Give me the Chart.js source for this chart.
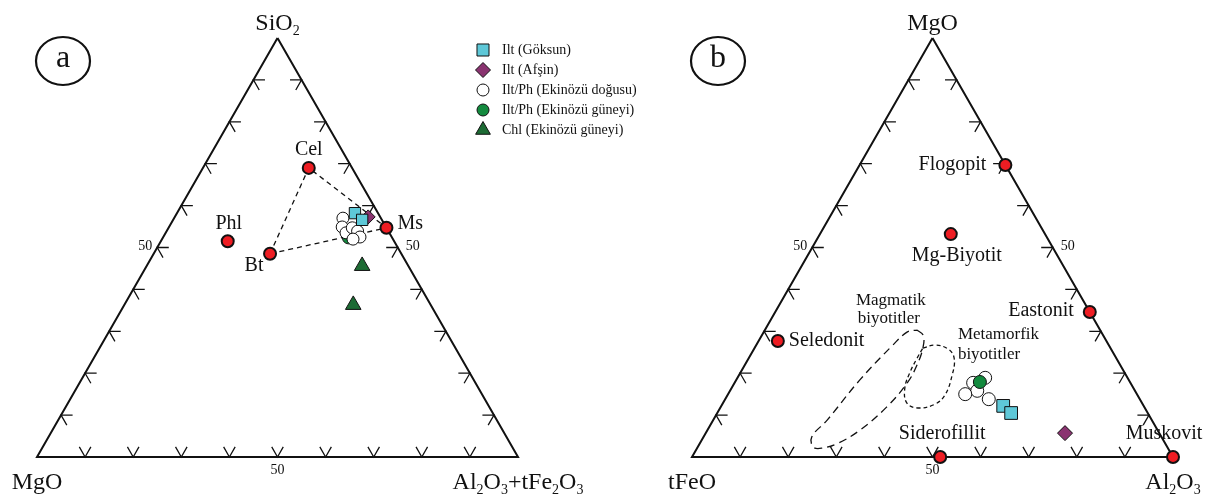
<!DOCTYPE html>
<html>
<head>
<meta charset="utf-8">
<script src="https://cdn.jsdelivr.net/npm/chart.js@4.4.1/dist/chart.umd.min.js"></script>
<style>
  body { margin: 0; background: #fff; }
  canvas { display: block; }
</style>
</head>
<body>
<canvas id="chart" width="1219" height="500"></canvas>
<script>
'use strict'

// every composition is [top, left, right] in percent
const tickValues = [10, 20, 30, 40, 50, 60, 70, 80, 90]
const labelledTicks = [50]

// (a) SiO2 - MgO - Al2O3+tFe2O3
const cornersA = ['SiO_2', 'MgO', 'Al_2O_3+tFe_2O_3']
const endNamesA = ['Cel', 'Phl', 'Bt', 'Ms']
const endValuesA = [[69, 9, 22], [51.5, 34.6, 13.9], [48.5, 27.3, 24.2], [54.7, 0, 45.3]]
const tieLineA = ['Bt', 'Cel', 'Ms', 'Bt']
const goksunA = [[58.2, 4.8, 37.0], [56.6, 4.1, 39.3]]
const afsinA = [[57.3, 2.5, 40.2]]
const dogusuA = [[57.0, 7.9, 35.1], [54.9, 9.1, 36.0], [53.5, 9.0, 37.5], [54.7, 7.1, 38.2],
  [53.9, 6.4, 39.7], [52.5, 6.6, 40.9], [52.0, 8.3, 39.7]]
const guneyiA = [[52.3, 9.1, 38.6]]
const chlA = [[45.6, 9.6, 44.8], [36.3, 16.1, 47.6]]

// (b) MgO - tFeO - Al2O3
const cornersB = ['MgO', 'tFeO', 'Al_2O_3']
const endNamesB = ['Flogopit', 'Mg-Biyotit', 'Eastonit', 'Seledonit', 'Siderofillit', 'Muskovit']
const endValuesB = [[69.7, 0, 30.3], [53.2, 19.6, 27.2], [34.6, 0, 65.4], [27.7, 68.3, 4.0],
  [0, 48.4, 51.6], [0, 0, 100]]
const goksunB = [[12.2, 29.2, 58.6], [10.5, 28.4, 61.1]]
const afsinB = [[5.7, 19.6, 74.7]]
const dogusuB = [[17.7, 32.7, 49.6], [18.9, 29.6, 51.5], [15.8, 32.8, 51.4], [15.0, 35.7, 49.3], [13.8, 31.4, 54.8]]
const guneyiB = [[17.9, 31.2, 50.9]]
const fieldNames = [['Magmatik', 'biyotitler'], ['Metamorfik', 'biyotitler']]
const magmatikField = [[30.3, 38.1, 31.6], [29.1, 37.4, 33.5], [26.3, 38.8, 34.9], [22.0, 42.2, 35.8],
  [17.7, 46.4, 35.9], [11.9, 53.6, 34.5], [6.4, 61.9, 31.7], [3.3, 68.0, 28.7], [2.1, 72.0, 25.9],
  [2.4, 73.6, 24.0], [4.8, 72.7, 22.5], [8.8, 67.5, 23.7], [18.4, 55.9, 25.7], [26.7, 44.9, 28.4],
  [29.8, 40.4, 29.8], [30.3, 38.1, 31.6]]
const metamorfikField = [[26.0, 39.0, 35.0], [26.7, 36.2, 37.1], [25.8, 33.9, 40.3], [23.6, 33.7, 42.7],
  [19.6, 36.1, 44.3], [14.8, 40.0, 45.2], [12.6, 43.2, 44.2], [11.7, 47.2, 41.1], [12.9, 48.9, 38.2],
  [16.5, 47.5, 36.0], [20.3, 44.5, 35.2], [23.6, 41.4, 35.0], [26.0, 39.0, 35.0]]

const legendLabels = ['Ilt (Göksun)', 'Ilt (Afşin)', 'Ilt/Ph (Ekinözü doğusu)', 'Ilt/Ph (Ekinözü güneyi)', 'Chl (Ekinözü güneyi)']

const FONT = '"Liberation Serif", "Times New Roman", serif'
const RED = '#ee1d23'
const markers = [
  { pointStyle: 'rect', radius: 8.5, color: '#5ec8d8' },
  { pointStyle: 'rectRot', radius: 7.5, color: '#8a3370' },
  { pointStyle: 'circle', radius: 6, color: '#ffffff' },
  { pointStyle: 'circle', radius: 6, color: '#138a3e' },
  { pointStyle: 'triangle', radius: 8.5, color: '#1d6b34' }
]

// page layout of the two triangles
const SIDE = 481
const LEFT_A = 37
const LEFT_B = 692
const PAD = { left: 37, right: 46, top: 38, bottom: 43 }
const areaWidth = 1219 - PAD.left - PAD.right

function pt (v) {
  return { x: v[2] + v[0] / 2, y: v[0] }
}

function t3 (top, right) {
  return [top, 100 - top - right, right]
}

function frameDatasets (axis) {
  const d = 2.4
  const ticks = []
  const gap = { x: null, y: null }
  tickValues.forEach(v => {
    ticks.push(pt(t3(d, v - d)), pt(t3(0, v)), pt(t3(d, v)), gap)
    ticks.push(pt(t3(v, d)), pt(t3(v, 0)), pt(t3(v - d, d)), gap)
    ticks.push(pt(t3(v, 100 - v - d)), pt(t3(v, 100 - v)), pt(t3(v - d, 100 - v)), gap)
  })
  const outline = [t3(100, 0), t3(0, 0), t3(0, 100), t3(100, 0)].map(pt)
  return [
    lineSet(axis, outline, 2, []),
    lineSet(axis, ticks, 1.3, [])
  ]
}

function lineSet (axis, data, width, dash, tension) {
  return {
    xAxisID: axis,
    data: data,
    showLine: true,
    spanGaps: false,
    borderColor: '#111',
    borderWidth: width,
    borderDash: dash,
    tension: tension || 0,
    pointRadius: 0,
    fill: false
  }
}

function pointSet (axis, values, marker, radius) {
  return {
    xAxisID: axis,
    data: values.map(pt),
    showLine: false,
    pointStyle: marker.pointStyle,
    pointRadius: radius || marker.radius,
    pointBackgroundColor: marker.color,
    pointBorderColor: '#111',
    pointBorderWidth: 1
  }
}

function endSet (axis, values) {
  return {
    xAxisID: axis,
    data: values.map(pt),
    showLine: false,
    pointStyle: 'circle',
    pointRadius: 6,
    pointBackgroundColor: RED,
    pointBorderColor: '#111',
    pointBorderWidth: 2
  }
}

const tieValues = tieLineA.map(name => endValuesA[endNamesA.indexOf(name)])

const datasets = [].concat(
  frameDatasets('xa'),
  [lineSet('xa', tieValues.map(pt), 1.3, [5, 4])],
  [endSet('xa', endValuesA)],
  [pointSet('xa', guneyiA, markers[3], 6)],
  [pointSet('xa', dogusuA, markers[2], 6)],
  [pointSet('xa', afsinA, markers[1], 7)],
  [pointSet('xa', goksunA, markers[0], 8)],
  [pointSet('xa', chlA, markers[4], 9)],
  frameDatasets('xb'),
  [lineSet('xb', magmatikField.map(pt), 1.3, [8, 5], 0.4)],
  [lineSet('xb', metamorfikField.map(pt), 1.3, [4, 3], 0.4)],
  [endSet('xb', endValuesB)],
  [pointSet('xb', dogusuB, markers[2], 6.5)],
  [pointSet('xb', guneyiB, markers[3], 6.5)],
  [pointSet('xb', goksunB, markers[0], 9)],
  [pointSet('xb', afsinB, markers[1], 7.5)]
)
// later datasets are drawn on top
datasets.forEach((ds, i) => { ds.order = datasets.length - i; ds.clip = false })

// label placement: [dx, dy, align] in pixels from the marker
const labelPlace = {
  Cel: [0, -18, 'center'],
  Phl: [1, -17, 'center'],
  Bt: [-16, 12, 'center'],
  Ms: [11, -4, 'left'],
  Flogopit: [-19, 0, 'right'],
  'Mg-Biyotit': [6, 22, 'center'],
  Eastonit: [-16, -1, 'right'],
  Seledonit: [11, 0, 'left'],
  Siderofillit: [2, -23, 'center'],
  Muskovit: [-9, -23, 'center']
}

function drawRich (ctx, text, x, y, size, align) {
  const parts = []
  for (let i = 0; i < text.length; i++) {
    if (text[i] === '_') {
      parts.push([text[i + 1], true])
      i++
    } else {
      parts.push([text[i], false])
    }
  }
  const fontFor = p => (p[1] ? Math.round(size * 0.6) : size) + 'px ' + FONT
  let width = 0
  parts.forEach(p => { ctx.font = fontFor(p); width += ctx.measureText(p[0]).width })
  let cx = align === 'center' ? x - width / 2 : (align === 'right' ? x - width : x)
  ctx.textAlign = 'left'
  ctx.textBaseline = 'alphabetic'
  parts.forEach(p => {
    ctx.font = fontFor(p)
    ctx.fillText(p[0], cx, p[1] ? y + size * 0.2 : y)
    cx += ctx.measureText(p[0]).width
  })
}

function drawMarker (ctx, marker, x, y) {
  ctx.fillStyle = marker.color
  ctx.strokeStyle = '#111'
  ctx.lineWidth = 1
  Chart.helpers.drawPoint(ctx, { pointStyle: marker.pointStyle, radius: marker.radius, rotation: 0, borderWidth: 1 }, x, y)
}

const panels = [
  { axis: 'xa', letter: 'a', left: LEFT_A, corners: cornersA, names: endNamesA, values: endValuesA },
  { axis: 'xb', letter: 'b', left: LEFT_B, corners: cornersB, names: endNamesB, values: endValuesB }
]

const textPlugin = {
  id: 'ternaryTexts',
  afterDatasetsDraw (chart) {
    const ctx = chart.ctx
    const ys = chart.scales.y
    ctx.save()
    panels.forEach(panel => {
      const xs = chart.scales[panel.axis]
      const px = v => xs.getPixelForValue(pt(v).x)
      const py = v => ys.getPixelForValue(pt(v).y)
      ctx.fillStyle = '#111'

      // corner names
      drawRich(ctx, panel.corners[0], px(t3(100, 0)), 30, 24, 'center')
      drawRich(ctx, panel.corners[1], px(t3(0, 0)), 489, 24, 'center')
      drawRich(ctx, panel.corners[2], px(t3(0, 100)), 489, 24, 'center')

      // edge tick labels
      ctx.font = '14px ' + FONT
      ctx.textBaseline = 'middle'
      labelledTicks.forEach(v => {
        ctx.textAlign = 'right'
        ctx.fillText(String(v), px(t3(v, 0)) - 5, py(t3(v, 0)) - 1)
        ctx.textAlign = 'left'
        ctx.fillText(String(v), px(t3(v, 100 - v)) + 8, py(t3(v, 100 - v)) - 1)
        ctx.textAlign = 'center'
        ctx.fillText(String(v), px(t3(0, v)), py(t3(0, v)) + 13)
      })

      // end member names
      ctx.font = '20px ' + FONT
      panel.names.forEach((name, i) => {
        const place = labelPlace[name]
        ctx.textAlign = place[2]
        ctx.fillText(name, px(panel.values[i]) + place[0], py(panel.values[i]) + place[1])
      })

      // panel letter in an oval
      const cx = panel.left + 26
      ctx.beginPath()
      ctx.lineWidth = 2.2
      ctx.strokeStyle = '#111'
      ctx.ellipse(cx, 61, 27, 24, 0, 0, Math.PI * 2)
      ctx.stroke()
      ctx.font = '32px ' + FONT
      ctx.textAlign = 'center'
      ctx.textBaseline = 'middle'
      ctx.fillText(panel.letter, cx, 59)
    })

    // field names in (b)
    const xb = chart.scales.xb
    ctx.font = '17px ' + FONT
    ctx.textBaseline = 'middle'
    ctx.textAlign = 'center'
    const mTop = magmatikField[0]
    ctx.fillText(fieldNames[0][0], xb.getPixelForValue(pt(mTop).x) - 26, ys.getPixelForValue(pt(mTop).y) - 30)
    ctx.fillText(fieldNames[0][1], xb.getPixelForValue(pt(mTop).x) - 28, ys.getPixelForValue(pt(mTop).y) - 12)
    const rTop = metamorfikField[2]
    ctx.textAlign = 'left'
    ctx.fillText(fieldNames[1][0], xb.getPixelForValue(pt(rTop).x) + 10, ys.getPixelForValue(pt(rTop).y) - 14)
    ctx.fillText(fieldNames[1][1], xb.getPixelForValue(pt(rTop).x) + 10, ys.getPixelForValue(pt(rTop).y) + 6)

    // legend
    legendLabels.forEach((label, i) => {
      const y = 50 + i * 20
      drawMarker(ctx, markers[i], 483, y)
      ctx.fillStyle = '#111'
      ctx.font = '14px ' + FONT
      ctx.textAlign = 'left'
      ctx.textBaseline = 'middle'
      ctx.fillText(label, 502, y)
    })
    ctx.restore()
  }
}

const chart = new Chart(document.getElementById('chart'), {
  type: 'scatter',
  data: { datasets: datasets },
  options: {
    responsive: false,
    animation: false,
    events: [],
    layout: { padding: PAD },
    plugins: { legend: { display: false }, tooltip: { enabled: false } },
    scales: {
      xa: { type: 'linear', display: false, min: 0, max: areaWidth / SIDE * 100 },
      xb: { type: 'linear', display: false, min: -(LEFT_B - LEFT_A) / SIDE * 100, max: 100 },
      y: { type: 'linear', display: false, min: 0, max: 100 }
    }
  },
  plugins: [textPlugin]
})
</script>
</body>
</html>
